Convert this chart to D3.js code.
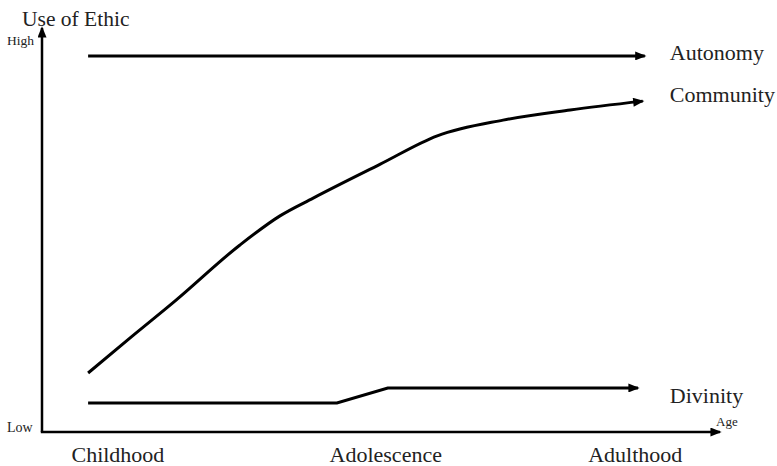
<!DOCTYPE html>
<html>
<head>
<meta charset="utf-8">
<script src="https://cdn.jsdelivr.net/npm/d3@7"></script>
<style>
  html, body { margin: 0; padding: 0; background: #fff; }
  svg { display: block; }
  text { font-family: "Liberation Serif", "Times New Roman", serif; fill: #222; }
</style>
</head>
<body>
<svg id="chart" width="777" height="466"></svg>
<script>
// ---- data (age on 0..100 scale, use of ethic on 0..100 scale) ----
const categories = ["Childhood", "Adolescence", "Adulthood"];
const categoryAge = [11.2, 50.7, 87.5];

const seriesNames = ["Autonomy", "Community", "Divinity"];
const labelAge = [92.6, 92.6, 92.6];
const labelUse = [92.1, 81.7, 7.2];

const autonomyAge = [6.8, 88.9];
const autonomyUse = [93.1, 93.1];
const communityAge = [6.8, 13.0, 19.6, 29.2, 35.1, 40.0, 49.9, 58.3, 68.0, 77.9, 88.6];
const communityUse = [14.6, 23.3, 32.4, 46.3, 53.5, 57.9, 66.3, 73.3, 77.2, 79.7, 81.9];
const divinityAge = [6.8, 43.5, 51.0, 87.9];
const divinityUse = [7.2, 7.2, 10.9, 10.9];

const yTitle = "Use of Ethic";
const yHigh = "High";
const yLow = "Low";
const xTitle = "Age";

// ---- scales ----
const svg = d3.select("#chart");
const x = d3.scaleLinear().domain([0, 100]).range([42, 720]);
const y = d3.scaleLinear().domain([0, 100]).range([432, 28]);

// arrow marker
const defs = svg.append("defs");
defs.append("marker")
  .attr("id", "arrow")
  .attr("viewBox", "0 0 10 8")
  .attr("refX", 8.5).attr("refY", 4)
  .attr("markerUnits", "userSpaceOnUse")
  .attr("markerWidth", 12).attr("markerHeight", 9)
  .attr("orient", "auto")
  .append("path").attr("d", "M0,0 L10,4 L0,8 Z").attr("fill", "#000");

// axes
svg.append("line")
  .attr("x1", x(0)).attr("y1", y(0)).attr("x2", x(0)).attr("y2", y(100))
  .attr("stroke", "#000").attr("stroke-width", 2.5)
  .attr("marker-end", "url(#arrow)");
svg.append("line")
  .attr("x1", x(0) - 1.2).attr("y1", y(0)).attr("x2", x(100)).attr("y2", y(0))
  .attr("stroke", "#000").attr("stroke-width", 2.5)
  .attr("marker-end", "url(#arrow)");

// series lines
const series = [
  { name: seriesNames[0], ages: autonomyAge, uses: autonomyUse, curve: d3.curveLinear },
  { name: seriesNames[1], ages: communityAge, uses: communityUse, curve: d3.curveMonotoneX },
  { name: seriesNames[2], ages: divinityAge, uses: divinityUse, curve: d3.curveLinear }
];
const line = d3.line();
series.forEach((s, k) => {
  const pts = s.ages.map((a, i) => [a, s.uses[i]]);
  svg.append("path")
    .attr("d", line.x(d => x(d[0])).y(d => y(d[1])).curve(s.curve)(pts))
    .attr("fill", "none").attr("stroke", "#000").attr("stroke-width", 3)
    .attr("marker-end", "url(#arrow)");
  svg.append("text")
    .attr("x", x(labelAge[k])).attr("y", y(labelUse[k]))
    .attr("font-size", 22)
    .text(s.name);
});

// category labels
svg.selectAll(".cat").data(categories).enter().append("text")
  .attr("class", "cat")
  .attr("x", (d, i) => x(categoryAge[i]))
  .attr("y", 462)
  .attr("text-anchor", "middle")
  .attr("font-size", 22)
  .text(d => d);

// axis annotations
svg.append("text").attr("x", 22).attr("y", 26).attr("font-size", 21.5).text(yTitle);
svg.append("text").attr("x", 7).attr("y", 45).attr("font-size", 13.5).text(yHigh);
svg.append("text").attr("x", 7).attr("y", 432).attr("font-size", 14).text(yLow);
svg.append("text").attr("x", 716).attr("y", 426).attr("font-size", 13).text(xTitle);
</script>
</body>
</html>
